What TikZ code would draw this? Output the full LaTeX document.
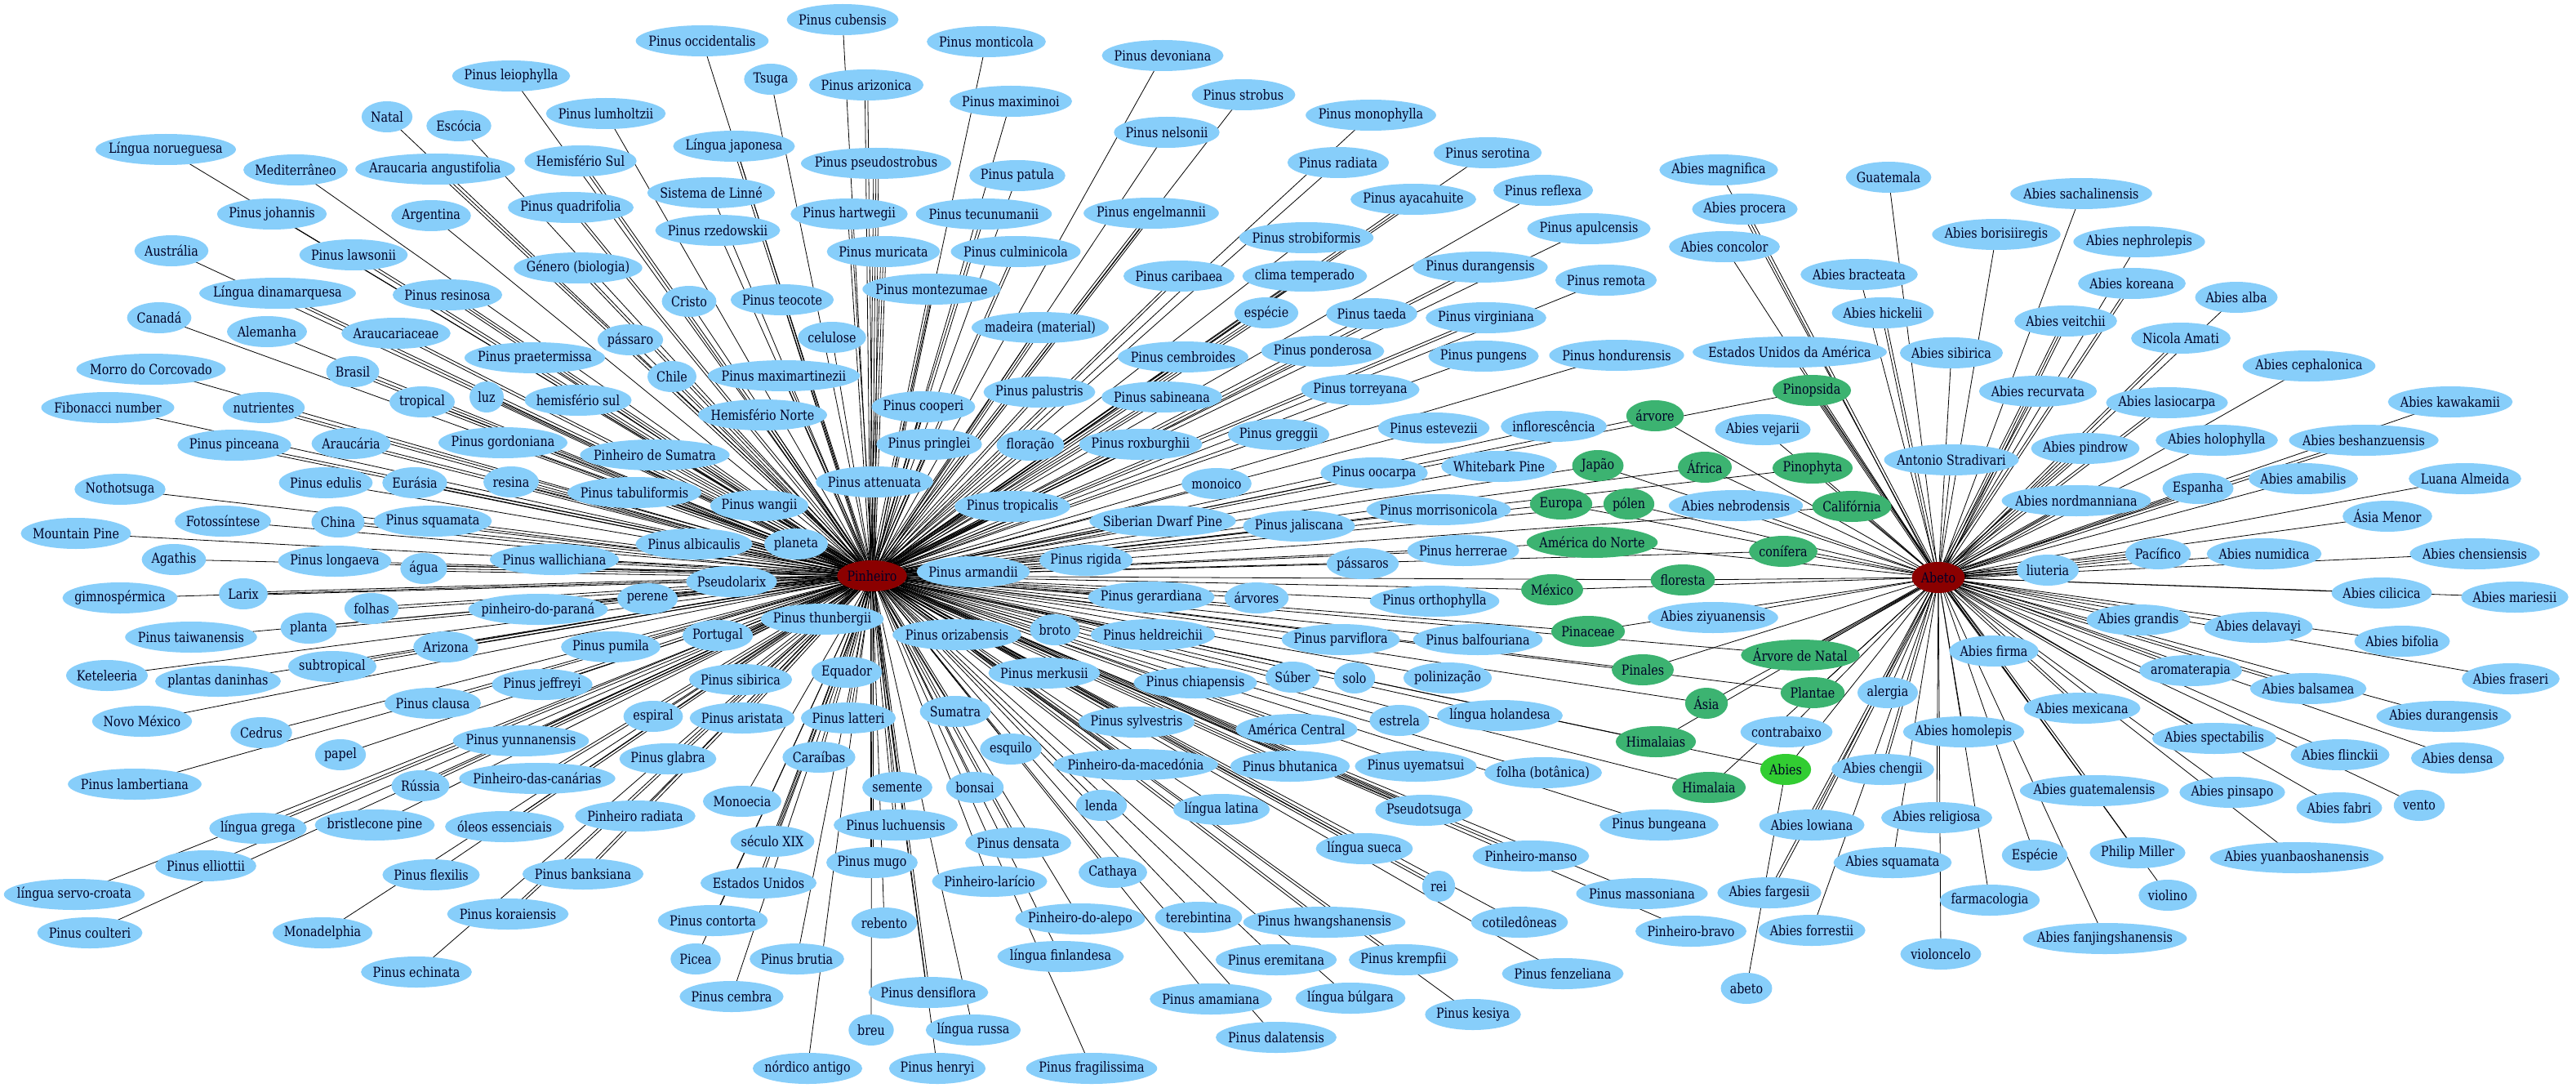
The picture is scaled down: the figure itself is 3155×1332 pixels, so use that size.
\documentclass[tikz,border=0pt]{standalone}
\usepackage{fontspec}
\setmainfont[FakeStretch=0.84]{DejaVu Serif}
\usetikzlibrary{calc}
\definecolor{lb}{HTML}{87CEFA}
\definecolor{gr}{HTML}{3CB371}
\definecolor{lg}{HTML}{32CD32}
\definecolor{hubc}{HTML}{8B0000}
\pgfdeclarelayer{edges}
\pgfdeclarelayer{fills}
\pgfsetlayers{edges,fills,main}
\tikzset{
  txt/.style={inner sep=0pt, font=\fontsize{17}{19}\selectfont, text=black!85!blue},
  edge/.style={draw=black, line width=0.8pt},
  lbfill/.style={fill=lb},
  grfill/.style={fill=gr},
  lgfill/.style={fill=lg},
  hubfill/.style={fill=hubc},
}
\newcommand\gnode[3]{\node[txt] (#1) at (#2) {#3};}
\newcommand\ellof[2]{\fill[#2] let \p1=(#1.west), \p2=(#1.east) in (#1.center) ellipse [x radius={0.55*(\x2-\x1)+9pt}, y radius=19pt];}
% parallel connectors (multi-edges)
\newcommand\dbl[2]{%
  \draw[edge] ($(#1.center)!1.7pt!90:(#2.center)$) -- ($(#2.center)!1.7pt!-90:(#1.center)$);
  \draw[edge] ($(#1.center)!1.7pt!-90:(#2.center)$) -- ($(#2.center)!1.7pt!90:(#1.center)$);}
\newcommand\tri[2]{%
  \draw[edge] (#1.center) -- (#2.center);
  \draw[edge] ($(#1.center)!3pt!90:(#2.center)$) -- ($(#2.center)!3pt!-90:(#1.center)$);
  \draw[edge] ($(#1.center)!3pt!-90:(#2.center)$) -- ($(#2.center)!3pt!90:(#1.center)$);}
\begin{document}
\begin{tikzpicture}[x=1pt,y=-1pt]
\useasboundingbox (0,0) rectangle (3155,1332);
% hubs
\gnode{P}{1068,705}{Pinheiro}
\gnode{A}{2374,707}{Abeto}
% Pinheiro neighbours
\gnode{p1}{626,93}{Pinus leiophylla}
\gnode{p2}{474,143}{Natal}
\gnode{p3}{562,154}{Escócia}
\gnode{p4}{742,139}{Pinus lumholtzii}
\gnode{p5}{203,183}{Língua norueguesa}
\gnode{p6}{362,208}{Mediterrâneo}
\gnode{p7}{533,207}{Araucaria angustifolia}
\gnode{p8}{711,197}{Hemisfério Sul}
\gnode{p9}{333,262}{Pinus johannis}
\gnode{p10}{528,264}{Argentina}
\gnode{p11}{699,254}{Pinus quadrifolia}
\gnode{p12}{210,307}{Austrália}
\gnode{p13}{433,312}{Pinus lawsonii}
\gnode{p14}{708,328}{Género (biologia)}
\gnode{p15}{340,359}{Língua dinamarquesa}
\gnode{p16}{548,361}{Pinus resinosa}
\gnode{p17}{195,389}{Canadá}
\gnode{p18}{327,406}{Alemanha}
\gnode{p19}{485,408}{Araucariaceae}
\gnode{p20}{772,416}{pássaro}
\gnode{p21}{655,438}{Pinus praetermissa}
\gnode{p22}{1032,24}{Pinus cubensis}
\gnode{p23}{860,50}{Pinus occidentalis}
\gnode{p24}{944,97}{Tsuga}
\gnode{p25}{1061,104}{Pinus arizonica}
\gnode{p26}{1208,51}{Pinus monticola}
\gnode{p27}{1424,68}{Pinus devoniana}
\gnode{p28}{1523,116}{Pinus strobus}
\gnode{p29}{1238,124}{Pinus maximinoi}
\gnode{p30}{899,179}{Língua japonesa}
\gnode{p31}{1073,200}{Pinus pseudostrobus}
\gnode{p32}{1429,162}{Pinus nelsonii}
\gnode{p33}{1246,215}{Pinus patula}
\gnode{p34}{871,236}{Sistema de Linné}
\gnode{p35}{1040,262}{Pinus hartwegii}
\gnode{p36}{1205,262}{Pinus tecunumanii}
\gnode{p37}{1410,261}{Pinus engelmannii}
\gnode{p38}{879,282}{Pinus rzedowskii}
\gnode{p39}{1082,308}{Pinus muricata}
\gnode{p40}{1244,308}{Pinus culminicola}
\gnode{p41}{1444,338}{Pinus caribaea}
\gnode{p42}{1141,354}{Pinus montezumae}
\gnode{p43}{844,369}{Cristo}
\gnode{p44}{958,367}{Pinus teocote}
\gnode{p45}{1019,413}{celulose}
\gnode{p46}{1274,401}{madeira (material)}
\gnode{p47}{1449,437}{Pinus cembroides}
\gnode{p48}{1551,383}{espécie}
\gnode{p49}{1679,141}{Pinus monophylla}
\gnode{p50}{1639,199}{Pinus radiata}
\gnode{p51}{1822,187}{Pinus serotina}
\gnode{p52}{1731,244}{Pinus ayacahuite}
\gnode{p53}{1890,233}{Pinus reflexa}
\gnode{p54}{1946,280}{Pinus apulcensis}
\gnode{p55}{1600,291}{Pinus strobiformis}
\gnode{p56}{1598,338}{clima temperado}
\gnode{p57}{1813,327}{Pinus durangensis}
\gnode{p58}{1967,343}{Pinus remota}
\gnode{p59}{1680,384}{Pinus taeda}
\gnode{p60}{1820,389}{Pinus virginiana}
\gnode{p61}{1620,430}{Pinus ponderosa}
\gnode{p62}{1817,436}{Pinus pungens}
\gnode{p63}{1980,435}{Pinus hondurensis}
\gnode{p64}{185,452}{Morro do Corcovado}
\gnode{p65}{432,455}{Brasil}
\gnode{p66}{517,492}{tropical}
\gnode{p67}{596,486}{luz}
\gnode{p68}{708,490}{hemisfério sul}
\gnode{p69}{132,499}{Fibonacci number}
\gnode{p70}{323,499}{nutrientes}
\gnode{p71}{287,545}{Pinus pinceana}
\gnode{p72}{430,543}{Araucária}
\gnode{p73}{616,542}{Pinus gordoniana}
\gnode{p74}{802,557}{Pinheiro de Sumatra}
\gnode{p75}{147,599}{Nothotsuga}
\gnode{p76}{399,591}{Pinus edulis}
\gnode{p77}{508,591}{Eurásia}
\gnode{p78}{626,590}{resina}
\gnode{p79}{777,603}{Pinus tabuliformis}
\gnode{p80}{273,638}{Fotossíntese}
\gnode{p81}{414,639}{China}
\gnode{p82}{530,638}{Pinus squamata}
\gnode{p83}{93,653}{Mountain Pine}
\gnode{p84}{213,685}{Agathis}
\gnode{p85}{410,687}{Pinus longaeva}
\gnode{p86}{519,696}{água}
\gnode{p87}{679,685}{Pinus wallichiana}
\gnode{p88}{850,666}{Pinus albicaulis}
\gnode{p89}{147,732}{gimnospérmica}
\gnode{p90}{298,727}{Larix}
\gnode{p91}{455,745}{folhas}
\gnode{p92}{659,746}{pinheiro-do-paraná}
\gnode{p93}{793,733}{perene}
\gnode{p94}{234,780}{Pinus taiwanensis}
\gnode{p95}{378,769}{planta}
\gnode{p96}{546,792}{Arizona}
\gnode{p97}{748,792}{Pinus pumila}
\gnode{p98}{131,827}{Keteleeria}
\gnode{p99}{267,834}{plantas daninhas}
\gnode{p100}{407,816}{subtropical}
\gnode{p101}{664,838}{Pinus jeffreyi}
\gnode{p102}{530,861}{Pinus clausa}
\gnode{p103}{174,883}{Novo México}
\gnode{p104}{800,877}{espiral}
\gnode{p105}{823,461}{Chile}
\gnode{p106}{960,460}{Pinus maximartinezii}
\gnode{p107}{934,508}{Hemisfério Norte}
\gnode{p108}{1131,498}{Pinus cooperi}
\gnode{p109}{1273,480}{Pinus palustris}
\gnode{p110}{1423,486}{Pinus sabineana}
\gnode{p111}{1138,544}{Pinus pringlei}
\gnode{p112}{1262,545}{floração}
\gnode{p113}{1397,544}{Pinus roxburghii}
\gnode{p114}{1566,532}{Pinus greggii}
\gnode{p115}{1071,590}{Pinus attenuata}
\gnode{p116}{1490,592}{monoico}
\gnode{p117}{930,619}{Pinus wangii}
\gnode{p118}{1240,620}{Pinus tropicalis}
\gnode{p119}{1424,638}{Siberian Dwarf Pine}
\gnode{p120}{1591,644}{Pinus jaliscana}
\gnode{p121}{975,666}{planeta}
\gnode{p122}{1192,700}{Pinus armandii}
\gnode{p123}{1330,686}{Pinus rigida}
\gnode{p124}{896,712}{Pseudolarix}
\gnode{p125}{1410,731}{Pinus gerardiana}
\gnode{p126}{1539,732}{árvores}
\gnode{p127}{1007,758}{Pinus thunbergii}
\gnode{p128}{879,778}{Portugal}
\gnode{p129}{1172,777}{Pinus orizabensis}
\gnode{p130}{1292,771}{broto}
\gnode{p131}{1412,777}{Pinus heldreichii}
\gnode{p132}{907,832}{Pinus sibirica}
\gnode{p133}{1037,823}{Equador}
\gnode{p134}{1279,824}{Pinus merkusii}
\gnode{p135}{1464,836}{Pinus chiapensis}
\gnode{p136}{1583,829}{Súber}
\gnode{p137}{909,879}{Pinus aristata}
\gnode{p138}{1039,879}{Pinus latteri}
\gnode{p139}{1170,871}{Sumatra}
\gnode{p140}{1392,884}{Pinus sylvestris}
\gnode{p141}{1588,893}{América Central}
\gnode{p142}{1666,477}{Pinus torreyana}
\gnode{p143}{1756,524}{Pinus estevezii}
\gnode{p144}{1903,522}{inflorescência}
\gnode{p145}{1683,579}{Pinus oocarpa}
\gnode{p146}{1836,571}{Whitebark Pine}
\gnode{p147}{1762,624}{Pinus morrisonicola}
\gnode{p148}{1792,674}{Pinus herrerae}
\gnode{p149}{1669,690}{pássaros}
\gnode{p150}{1757,736}{Pinus orthophylla}
\gnode{p151}{1642,783}{Pinus parviflora}
\gnode{p152}{1810,783}{Pinus balfouriana}
\gnode{p153}{1659,830}{solo}
\gnode{p154}{1773,830}{polinização}
\gnode{p155}{1714,882}{estrela}
\gnode{p156}{1837,876}{língua holandesa}
\gnode{p157}{320,897}{Cedrus}
\gnode{p158}{417,924}{papel}
\gnode{p159}{638,907}{Pinus yunnanensis}
\gnode{p160}{165,960}{Pinus lambertiana}
\gnode{p161}{515,962}{Rússia}
\gnode{p162}{658,953}{Pinheiro-das-canárias}
\gnode{p163}{316,1014}{língua grega}
\gnode{p164}{459,1010}{bristlecone pine}
\gnode{p165}{618,1012}{óleos essenciais}
\gnode{p166}{778,999}{Pinheiro radiata}
\gnode{p167}{252,1060}{Pinus elliottii}
\gnode{p168}{528,1071}{Pinus flexilis}
\gnode{p169}{714,1070}{Pinus banksiana}
\gnode{p170}{91,1095}{língua servo-croata}
\gnode{p171}{622,1119}{Pinus koraiensis}
\gnode{p172}{110,1142}{Pinus coulteri}
\gnode{p173}{395,1142}{Monadelphia}
\gnode{p174}{510,1190}{Pinus echinata}
\gnode{p175}{818,929}{Pinus glabra}
\gnode{p176}{1003,927}{Caraíbas}
\gnode{p177}{1238,917}{esquilo}
\gnode{p178}{1391,936}{Pinheiro-da-macedónia}
\gnode{p179}{1580,938}{Pinus bhutanica}
\gnode{p180}{1099,964}{semente}
\gnode{p181}{1194,964}{bonsai}
\gnode{p182}{1349,986}{lenda}
\gnode{p183}{1496,991}{língua latina}
\gnode{p184}{909,981}{Monoecia}
\gnode{p185}{1097,1010}{Pinus luchuensis}
\gnode{p186}{946,1030}{século XIX}
\gnode{p187}{1247,1032}{Pinus densata}
\gnode{p188}{1068,1056}{Pinus mugo}
\gnode{p189}{1363,1068}{Cathaya}
\gnode{p190}{929,1081}{Estados Unidos}
\gnode{p191}{1212,1079}{Pinheiro-larício}
\gnode{p192}{873,1127}{Pinus contorta}
\gnode{p193}{1083,1130}{rebento}
\gnode{p194}{1323,1125}{Pinheiro-do-alepo}
\gnode{p195}{1468,1123}{terebintina}
\gnode{p196}{1622,1129}{Pinus hwangshanensis}
\gnode{p197}{852,1174}{Picea}
\gnode{p198}{976,1174}{Pinus brutia}
\gnode{p199}{1299,1171}{língua finlandesa}
\gnode{p200}{1563,1175}{Pinus eremitana}
\gnode{p201}{896,1220}{Pinus cembra}
\gnode{p202}{1137,1215}{Pinus densiflora}
\gnode{p203}{1483,1223}{Pinus amamiana}
\gnode{p204}{1067,1261}{breu}
\gnode{p205}{1192,1261}{língua russa}
\gnode{p206}{1563,1270}{Pinus dalatensis}
\gnode{p207}{989,1308}{nórdico antigo}
\gnode{p208}{1148,1308}{Pinus henryi}
\gnode{p209}{1337,1308}{Pinus fragilissima}
\gnode{p210}{1734,938}{Pinus uyematsui}
\gnode{p211}{1890,946}{folha (botânica)}
\gnode{p212}{1744,992}{Pseudotsuga}
\gnode{p213}{2032,1010}{Pinus bungeana}
\gnode{p214}{1671,1039}{língua sueca}
\gnode{p215}{1875,1048}{Pinheiro-manso}
\gnode{p216}{1762,1085}{rei}
\gnode{p217}{2011,1094}{Pinus massoniana}
\gnode{p218}{1861,1129}{cotiledôneas}
\gnode{p219}{2071,1140}{Pinheiro-bravo}
\gnode{p220}{1719,1175}{Pinus krempfii}
\gnode{p221}{1914,1192}{Pinus fenzeliana}
\gnode{p222}{1654,1222}{língua búlgara}
\gnode{p223}{1804,1242}{Pinus kesiya}
% Abeto neighbours
\gnode{a1}{2105,208}{Abies magnifica}
\gnode{a2}{2137,256}{Abies procera}
\gnode{a3}{2112,302}{Abies concolor}
\gnode{a4}{2313,217}{Guatemala}
\gnode{a5}{2277,336}{Abies bracteata}
\gnode{a6}{2306,383}{Abies hickelii}
\gnode{a7}{2192,431}{Estados Unidos da América}
\gnode{a8}{2390,432}{Abies sibirica}
\gnode{a9}{2549,237}{Abies sachalinensis}
\gnode{a10}{2445,287}{Abies borisiiregis}
\gnode{a11}{2620,296}{Abies nephrolepis}
\gnode{a12}{2611,347}{Abies koreana}
\gnode{a13}{2739,364}{Abies alba}
\gnode{a14}{2530,393}{Abies veitchii}
\gnode{a15}{2671,414}{Nicola Amati}
\gnode{a16}{2828,448}{Abies cephalonica}
\gnode{a17}{2159,526}{Abies vejarii}
\gnode{a18}{2390,563}{Antonio Stradivari}
\gnode{a19}{2126,619}{Abies nebrodensis}
\gnode{a20}{2098,756}{Abies ziyuanensis}
\gnode{a21}{2312,848}{alergia}
\gnode{a22}{2496,479}{Abies recurvata}
\gnode{a23}{2654,493}{Abies lasiocarpa}
\gnode{a24}{3001,492}{Abies kawakamii}
\gnode{a25}{2554,549}{Abies pindrow}
\gnode{a26}{2715,539}{Abies holophylla}
\gnode{a27}{2895,539}{Abies beshanzuensis}
\gnode{a28}{2821,586}{Abies amabilis}
\gnode{a29}{3019,586}{Luana Almeida}
\gnode{a30}{2692,598}{Espanha}
\gnode{a31}{2543,613}{Abies nordmanniana}
\gnode{a32}{2924,632}{Ásia Menor}
\gnode{a33}{2643,678}{Pacífico}
\gnode{a34}{2773,678}{Abies numidica}
\gnode{a35}{3031,678}{Abies chensiensis}
\gnode{a36}{2508,698}{liuteria}
\gnode{a37}{2917,726}{Abies cilicica}
\gnode{a38}{3080,731}{Abies mariesii}
\gnode{a39}{2619,759}{Abies grandis}
\gnode{a40}{2766,768}{Abies delavayi}
\gnode{a41}{2942,785}{Abies bifolia}
\gnode{a42}{2442,797}{Abies firma}
\gnode{a43}{2683,821}{aromaterapia}
\gnode{a44}{3075,831}{Abies fraseri}
\gnode{a45}{2827,843}{Abies balsamea}
\gnode{a46}{2550,867}{Abies mexicana}
\gnode{a47}{2993,877}{Abies durangensis}
\gnode{a48}{2188,896}{contrabaixo}
\gnode{a49}{2306,942}{Abies chengii}
\gnode{a50}{2219,1010}{Abies lowiana}
\gnode{a51}{2372,1001}{Abies religiosa}
\gnode{a52}{2318,1056}{Abies squamata}
\gnode{a53}{2167,1093}{Abies fargesii}
\gnode{a54}{2219,1139}{Abies forrestii}
\gnode{a55}{2377,1168}{violoncelo}
\gnode{a56}{2405,896}{Abies homolepis}
\gnode{a57}{2712,904}{Abies spectabilis}
\gnode{a58}{2866,924}{Abies flinckii}
\gnode{a59}{3010,928}{Abies densa}
\gnode{a60}{2565,968}{Abies guatemalensis}
\gnode{a61}{2734,970}{Abies pinsapo}
\gnode{a62}{2865,989}{Abies fabri}
\gnode{a63}{2963,986}{vento}
\gnode{a64}{2492,1047}{Espécie}
\gnode{a65}{2618,1044}{Philip Miller}
\gnode{a66}{2813,1050}{Abies yuanbaoshanensis}
\gnode{a67}{2437,1102}{farmacologia}
\gnode{a68}{2655,1096}{violino}
\gnode{a69}{2578,1149}{Abies fanjingshanensis}
% shared nodes
\gnode{g1}{2219,478}{Pinopsida}
\gnode{g2}{2027,509}{árvore}
\gnode{g3}{1957,570}{Japão}
\gnode{g4}{2088,572}{África}
\gnode{g5}{2220,573}{Pinophyta}
\gnode{g6}{1912,617}{Europa}
\gnode{g7}{1995,617}{pólen}
\gnode{g8}{2268,620}{Califórnia}
\gnode{g9}{1950,664}{América do Norte}
\gnode{g10}{2184,675}{conífera}
\gnode{g11}{2061,710}{floresta}
\gnode{g12}{1901,722}{México}
\gnode{g13}{1945,773}{Pinaceae}
\gnode{g14}{2205,802}{Árvore de Natal}
\gnode{g15}{2012,820}{Pinales}
\gnode{g16}{2220,848}{Plantae}
\gnode{g17}{2090,861}{Ásia}
\gnode{g18}{2028,908}{Himalaias}
\gnode{g19}{2093,964}{Himalaia}
\gnode{ab}{2187,942}{Abies}
\gnode{abl}{2139,1210}{abeto}
% ellipses
\begin{pgfonlayer}{fills}
\ellof{P}{hubfill}
\ellof{A}{hubfill}
\foreach \i in {1,...,223} {\ellof{p\i}{lbfill}}
\foreach \i in {1,...,69} {\ellof{a\i}{lbfill}}
\foreach \i in {1,...,19} {\ellof{g\i}{grfill}}
\ellof{ab}{lgfill}
\ellof{abl}{lbfill}
\end{pgfonlayer}
% connectors
\begin{pgfonlayer}{edges}
\fill[white] (0,0) rectangle (3155,1332);
\foreach \i in {1,2,3,4,5,6,9,10,12,17,18,20,21,22,23,24,26,27,28,29,32,33,34,38,43,44,45,47,49,50,51,53,54,55,58,59,61,62,63,64,68,69,75,76,80,83,84,85,89,93,94,97,98,99,102,103,104,105,114,116,120,126,130,135,136,142,143,144,145,146,147,148,149,150,151,152,153,154,155,156,157,158,160,164,166,167,168,170,172,173,174,175,177,181,182,183,184,189,191,192,193,194,195,197,198,199,200,201,203,204,205,206,207,208,209,210,211,213,217,218,219,220,221,222,223} {\draw[edge] (P.center) -- (p\i.center);}
\foreach \i in {7,8,11,13,14,15,19,25,30,35,36,40,41,52,56,57,60,65,66,67,70,71,72,73,77,78,81,82,87,90,91,92,95,96,100,101,106,107,108,109,111,112,113,115,117,118,119,121,122,124,125,127,128,129,131,132,133,134,137,138,139,140,141,161,162,163,165,169,171,176,180,185,186,187,188,190,196,202,214,215,216} {\dbl{P}{p\i}}
\foreach \i in {16,31,37,39,42,46,48,74,79,86,88,110,123,159,178,179,212} {\tri{P}{p\i}}
\foreach \i in {1,3,4,5,7,8,9,10,11,13,16,17,18,19,20,21,24,26,28,29,32,34,35,37,38,40,41,44,47,48,51,52,54,55,56,58,59,61,62,63,64,65,66,67,68,69} {\draw[edge] (A.center) -- (a\i.center);}
\foreach \i in {2,6,12,15,22,23,27,30,39,42,43,45,46,49,50,53,57,60} {\dbl{A}{a\i}}
\foreach \i in {14,25,31,33,36} {\tri{A}{a\i}}
\foreach \i in {1,...,19} {\draw[edge] (P.center) -- (g\i.center); \draw[edge] (A.center) -- (g\i.center);}
\dbl{A}{g1}
\dbl{A}{g14}
\draw[edge] (P.center) -- (ab.center);
\draw[edge] (A.center) -- (ab.center);
\draw[edge] (ab.center) -- (abl.center);
\end{pgfonlayer}
\end{tikzpicture}
\end{document}
